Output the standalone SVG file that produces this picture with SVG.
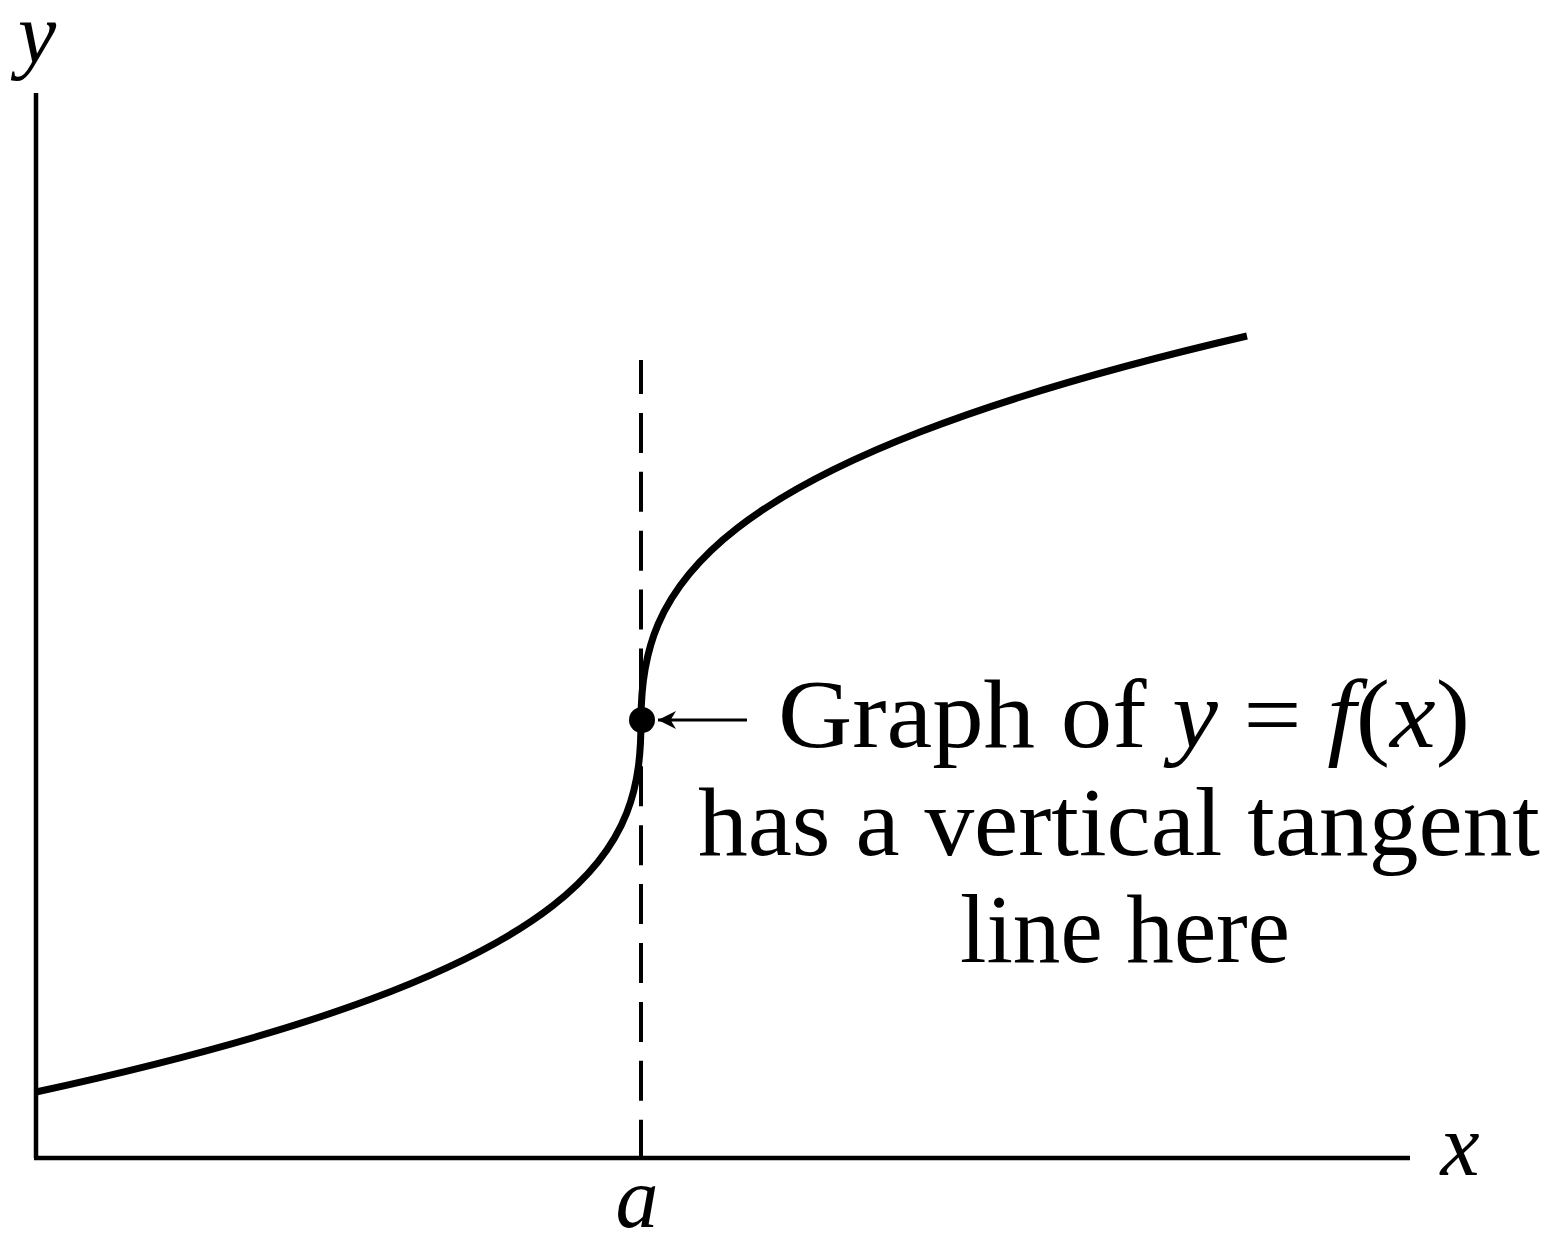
<svg xmlns="http://www.w3.org/2000/svg" width="1556" height="1234" viewBox="0 0 1556 1234">
<style>
.ax{stroke:#000;stroke-width:4.5;fill:none}
.curve{stroke:#000;stroke-width:7;fill:none;stroke-linejoin:round;stroke-linecap:butt}
.dash{stroke:#000;stroke-width:4;stroke-dasharray:40 18.9;stroke-dashoffset:6;fill:none}
.lbl{font-family:"Liberation Serif","Times New Roman",serif;fill:#000}
.it{font-style:italic}
</style>
<defs>
<marker id="ah" viewBox="0 0 10 10" refX="10" refY="5" markerWidth="10" markerHeight="6" markerUnits="strokeWidth" orient="auto">
<path d="M0,0 L10,5 L0,10 L3,5 Z" fill="#000"/>
</marker>
</defs>
<rect width="1556" height="1234" fill="#fff"/>
<g id="axes">
<line class="ax" x1="36" y1="93" x2="36" y2="1158"/>
<line class="ax" x1="34" y1="1158" x2="1410" y2="1158"/>
<text class="lbl it" x="37" y="62" font-size="86" text-anchor="middle">y</text>
<text class="lbl it" x="1460" y="1175" font-size="88" text-anchor="middle">x</text>
<text class="lbl it" x="637" y="1227" font-size="86" text-anchor="middle">a</text>
</g>
<g id="tangent-line">
<line class="dash" x1="641" y1="360" x2="641" y2="1158"/>
</g>
<g id="graph">
<path class="curve" d="M36,1092 C606.4,968 641,844 641,720 C641,592 696.1,464 1247,336"/>
<circle cx="642" cy="720" r="13" fill="#000"/>
</g>
<g id="connectors">
<line x1="747" y1="720" x2="658" y2="720" stroke="#000" stroke-width="3" marker-end="url(#ah)"/>
</g>
<g id="annotation">
<text class="lbl" x="1124" y="747" font-size="98" text-anchor="middle" textLength="692" lengthAdjust="spacingAndGlyphs">Graph of <tspan class="it">y</tspan> = <tspan class="it">f</tspan>(<tspan class="it">x</tspan>)</text>
<text class="lbl" x="1119" y="855" font-size="98" text-anchor="middle" textLength="842" lengthAdjust="spacingAndGlyphs">has a vertical tangent</text>
<text class="lbl" x="1125" y="962" font-size="98" text-anchor="middle" textLength="330" lengthAdjust="spacingAndGlyphs">line here</text>
</g>
</svg>
